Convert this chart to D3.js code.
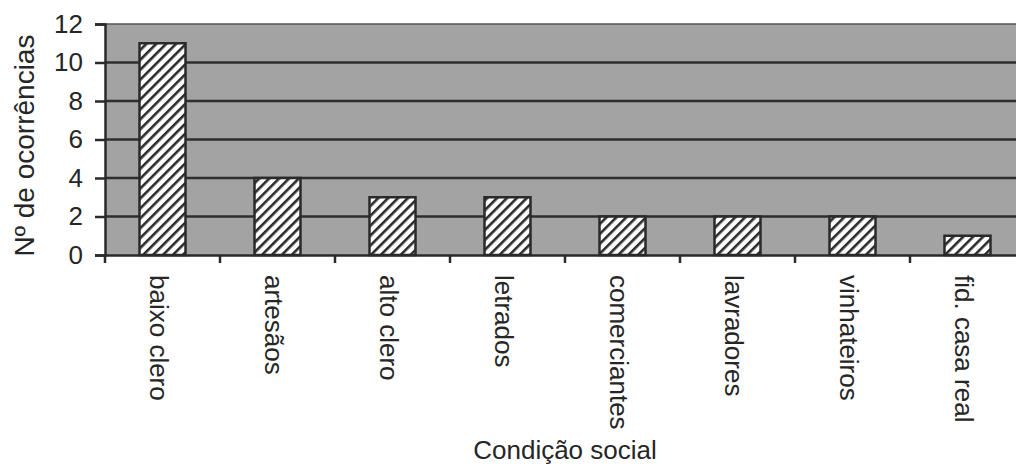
<!DOCTYPE html>
<html>
<head>
<meta charset="utf-8">
<script src="https://cdn.jsdelivr.net/npm/d3@7"></script>
<style>
  body { margin: 0; background: #fff; }
  text { font-family: "Liberation Sans", Arial, sans-serif; fill: #262626; }
</style>
</head>
<body>
<div id="chart"></div>
<script>
const categories = ["baixo clero", "artesãos", "alto clero", "letrados", "comerciantes", "lavradores", "vinhateiros", "fid. casa real"];
const values = [11, 4, 3, 3, 2, 2, 2, 1];
const yTicks = [0, 2, 4, 6, 8, 10, 12];

const margin = {top: 24, right: -9, bottom: 212, left: 105};
const W = 1016, H = 467;
const width = W - margin.left - margin.right;
const height = H - margin.top - margin.bottom;

const svg = d3.select("#chart")
    .append("svg")
    .attr("width", W)
    .attr("height", H);

const defs = svg.append("defs");
const pat = defs.append("pattern")
    .attr("id", "hatch")
    .attr("patternUnits", "userSpaceOnUse")
    .attr("width", 7)
    .attr("height", 7)
    .attr("patternTransform", "rotate(45)");
pat.append("rect").attr("width", 7).attr("height", 7).attr("fill", "#fff");
pat.append("rect").attr("width", 2.6).attr("height", 7).attr("fill", "#2a2a2a");

const g = svg.append("g")
    .attr("transform", `translate(${margin.left},${margin.top})`);

const x = d3.scaleBand().domain(categories).range([0, width]);
const y = d3.scaleLinear().domain([0, 12]).range([height, 0]);

// plot background
g.append("rect")
    .attr("width", width)
    .attr("height", height)
    .attr("fill", "#a3a3a3");

// gridlines
g.selectAll(".grid")
    .data(yTicks.filter(d => d > 0))
    .enter().append("line")
    .attr("x1", 0)
    .attr("x2", width)
    .attr("y1", d => y(d))
    .attr("y2", d => y(d))
    .attr("stroke", d => d === 12 ? "#555" : "#2e2e2e")
    .attr("stroke-width", d => d === 12 ? 1.5 : 2.5);

// bars
const barW = 46;
g.selectAll(".bar")
    .data(values)
    .enter().append("rect")
    .attr("x", (d, i) => x(categories[i]) + x.bandwidth() / 2 - barW / 2)
    .attr("y", d => y(d))
    .attr("width", barW)
    .attr("height", d => height - y(d))
    .attr("fill", "url(#hatch)")
    .attr("stroke", "#2a2a2a")
    .attr("stroke-width", 2.5);

// y axis
const yAxis = g.append("g")
    .call(d3.axisLeft(y).tickValues(yTicks).tickSize(10).tickPadding(12));
yAxis.select(".domain").attr("stroke", "#2a2a2a").attr("stroke-width", 2.5);
yAxis.selectAll(".tick line").attr("stroke", "#2a2a2a").attr("stroke-width", 2.5);
yAxis.selectAll(".tick text")
    .style("font-size", "26px")
    .attr("fill", "#262626");

// x axis
const xAxis = g.append("g")
    .attr("transform", `translate(0,${height})`)
    .call(d3.axisBottom(x).tickSize(0).tickFormat(""));
xAxis.select(".domain").attr("stroke", "#2a2a2a").attr("stroke-width", 2.5);

g.selectAll(".xtick")
    .data(d3.range(categories.length + 1))
    .enter().append("line")
    .attr("x1", d => d * x.step())
    .attr("x2", d => d * x.step())
    .attr("y1", height)
    .attr("y2", height + 8)
    .attr("stroke", "#2a2a2a")
    .attr("stroke-width", 2.5);

g.selectAll(".xlabel")
    .data(categories)
    .enter().append("text")
    .attr("transform", d => `translate(${x(d) + x.bandwidth() / 2 - 3},${height + 20}) rotate(90)`)
    .attr("dy", "0.35em")
    .style("font-size", "26px")
    .style("text-anchor", "start")
    .text(d => d);

// axis titles
svg.append("text")
    .attr("transform", `translate(24,${margin.top + height / 2 + 6}) rotate(-90)`)
    .attr("dy", "0.35em")
    .style("font-size", "28px")
    .style("text-anchor", "middle")
    .text("Nº de ocorrências");

svg.append("text")
    .attr("x", 565)
    .attr("y", 459)
    .style("font-size", "26px")
    .style("text-anchor", "middle")
    .text("Condição social");
</script>
</body>
</html>
